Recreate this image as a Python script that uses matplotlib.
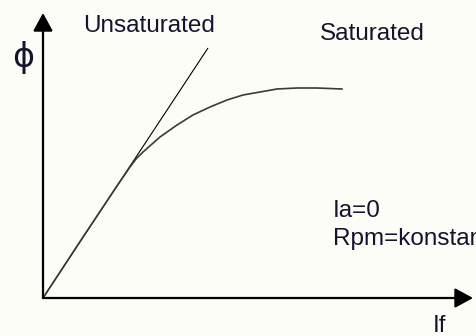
import matplotlib.pyplot as plt

# magnetisation curve (x = field current, y = flux)
curve_x = [0, 40, 74, 87, 93, 100, 117, 134, 150, 167, 184, 200, 217, 234, 254, 274, 299]
curve_y = [0, 61, 112, 131, 139, 146, 161, 173, 183, 191, 198, 203, 206, 209, 210, 210, 209]

# unsaturated (straight) line
line_x = [0, 165]
line_y = [0, 250]

# axis ends
x_end = 430
y_end = 285

bg = '#fdfdf7'
txt = '#14142e'

fig = plt.figure(figsize=(4.77, 3.36), dpi=100, facecolor=bg)
ax = fig.add_axes([0, 0, 1, 1], facecolor=bg)
ax.set_xlim(-43, 434)
ax.set_ylim(-38, 298)
ax.axis('off')

# axes with arrow heads
arrow = dict(arrowstyle='-|>,head_length=1.1,head_width=0.6', mutation_scale=10,
             lw=1.6, color='black', shrinkA=0, shrinkB=0)
ax.annotate('', xy=(0, y_end), xytext=(0, 0), arrowprops=arrow)
ax.annotate('', xy=(x_end, 0), xytext=(0, 0), arrowprops=arrow)

# lines
ax.plot(line_x, line_y, color='black', lw=0.8, solid_capstyle='butt')
ax.plot(curve_x, curve_y, color='#3a3a3a', lw=1.2, solid_joinstyle='round')

# labels
fs = 17.5
font = 'Liberation Sans'
ax.text(40, 266, 'Unsaturated', fontsize=fs, family=font, color=txt, va='baseline')
ax.text(277, 258, 'Saturated', fontsize=fs, family=font, color=txt, va='baseline')
ax.text(290, 81, 'Ia=0', fontsize=fs, family=font, color=txt, va='baseline')
ax.text(290, 53, 'Rpm=konstan', fontsize=fs, family=font, color=txt, va='baseline')
ax.text(390, -34, 'If', fontsize=fs, family=font, color=txt, va='baseline')
ax.text(-20, 241, 'ϕ', fontsize=24, family='DejaVu Sans', color=txt,
        ha='center', va='center')

plt.savefig('out.png', dpi=100, facecolor=bg)
